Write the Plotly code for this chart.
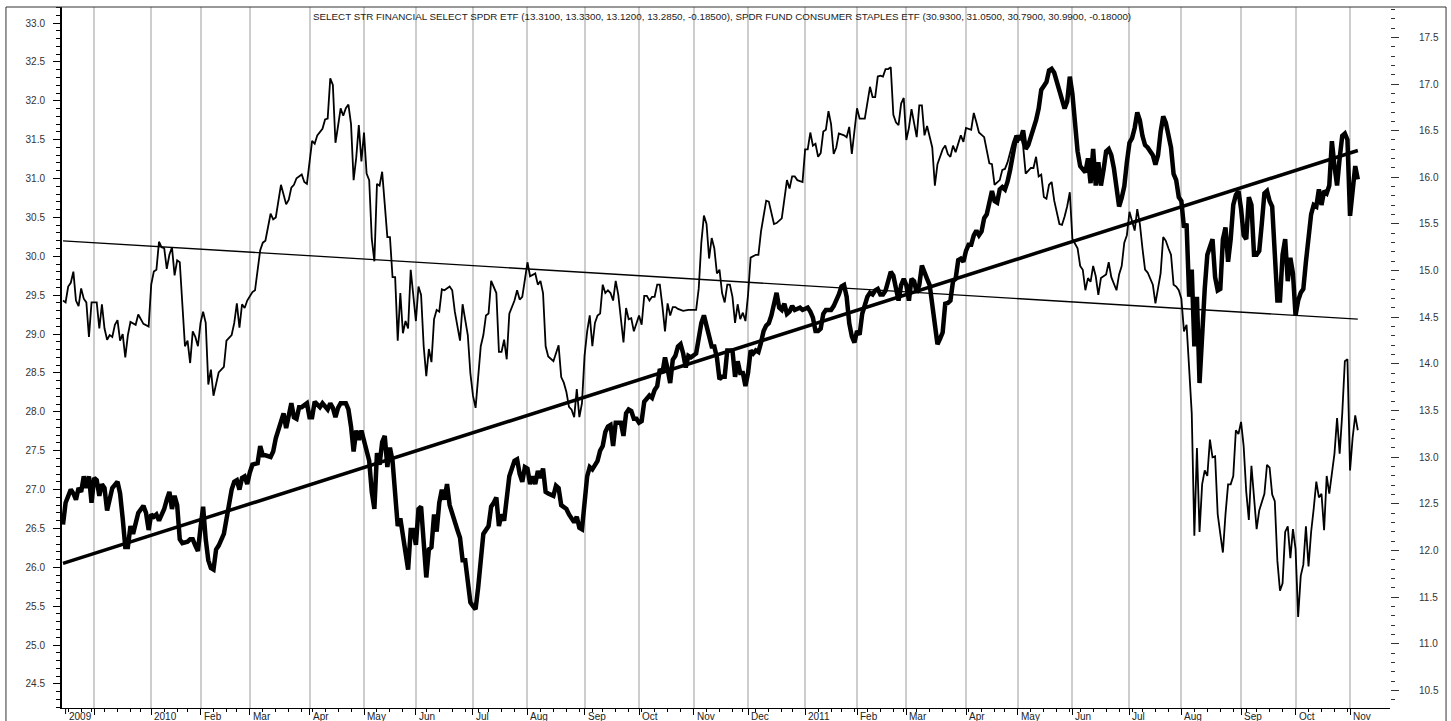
import pandas as pd
import plotly.graph_objects as go

title_text = ("SELECT STR FINANCIAL SELECT SPDR ETF (13.3100, 13.3300, 13.1200, 13.2850, -0.18500), "
              "SPDR FUND CONSUMER STAPLES ETF (30.9300, 31.0500, 30.7900, 30.9900, -0.18000)")

# trading calendar (x axis = trading-day index)
start_date = "2009-11-12"
end_date = "2011-11-04"
holidays = ["2009-11-26", "2009-12-25", "2010-01-01", "2010-01-18", "2010-02-15", "2010-04-02",
            "2010-05-31", "2010-07-05", "2010-09-06", "2010-11-25", "2010-12-24", "2011-01-17",
            "2011-02-21", "2011-04-22", "2011-05-30", "2011-07-04", "2011-09-05"]

month_labels = ["", "2010", "Feb", "Mar", "Apr", "May", "Jun", "Jul", "Aug", "Sep", "Oct", "Nov", "Dec",
                "2011", "Feb", "Mar", "Apr", "May", "Jun", "Jul", "Aug", "Sep", "Oct", "Nov"]
first_label = "2009"
first_label_day = 1

# SELECT STR FINANCIAL SELECT SPDR ETF (thin line, right axis): (trading day, close)
xlf_points = [
    (0, 14.68), (1, 14.66), (2, 14.83), (3, 14.87), (4, 14.99), (5, 14.68), (6, 14.62), (7, 14.81),
    (8, 14.70), (9, 14.66), (10, 14.29), (11, 14.66), (13, 14.66), (14, 14.38), (15, 14.64), (16, 14.38),
    (17, 14.26), (18, 14.31), (19, 14.29), (20, 14.42), (21, 14.47), (22, 14.25), (23, 14.32), (24, 14.07),
    (25, 14.31), (26, 14.45), (28, 14.42), (29, 14.53), (31, 14.43), (33, 14.40), (34, 14.85), (35, 14.99),
    (36, 15.01), (37, 15.31), (38, 15.25), (39, 15.24), (40, 15.02), (41, 15.17), (42, 15.25), (43, 14.95),
    (44, 15.11), (45, 15.09), (46, 14.64), (47, 14.19), (48, 14.25), (49, 14.01), (50, 14.35), (51, 14.29),
    (52, 14.19), (53, 14.44), (54, 14.56), (55, 14.44), (56, 13.78), (57, 13.94), (58, 13.66), (60, 13.91),
    (62, 13.97), (63, 14.25), (65, 14.31), (66, 14.44), (67, 14.65), (68, 14.39), (69, 14.64), (70, 14.60),
    (71, 14.68), (73, 14.77), (74, 14.79), (76, 15.22), (77, 15.30), (78, 15.32), (80, 15.61), (81, 15.55),
    (82, 15.57), (84, 15.92), (86, 15.71), (87, 15.76), (88, 15.89), (89, 15.92), (90, 15.99), (92, 16.03),
    (93, 15.95), (94, 15.93), (95, 16.16), (96, 16.39), (97, 16.36), (98, 16.45), (100, 16.52), (101, 16.62),
    (102, 16.63), (103, 17.06), (104, 16.99), (105, 16.37), (106, 16.55), (107, 16.74), (108, 16.66),
    (109, 16.74), (110, 16.78), (111, 16.57), (112, 15.97), (113, 16.21), (114, 16.56), (115, 16.17),
    (116, 16.48), (117, 16.04), (118, 15.97), (119, 15.34), (120, 15.10), (121, 15.93), (122, 15.91),
    (123, 16.06), (124, 15.71), (125, 15.36), (126, 15.36), (127, 14.93), (128, 14.93), (129, 14.25),
    (130, 14.76), (131, 14.33), (132, 14.46), (133, 14.38), (134, 15.01), (135, 14.76), (136, 14.46),
    (137, 14.83), (138, 14.74), (139, 14.19), (140, 13.87), (141, 14.16), (142, 14.02), (143, 14.48),
    (144, 14.58), (145, 14.56), (146, 14.80), (147, 14.79), (149, 14.83), (150, 14.79), (151, 14.56),
    (153, 14.25), (154, 14.64), (156, 14.31), (157, 13.90), (158, 13.66), (159, 13.53), (161, 14.19),
    (162, 14.31), (163, 14.52), (164, 14.54), (165, 14.89), (167, 14.76), (168, 14.13), (169, 14.13),
    (170, 14.26), (171, 14.05), (172, 14.54), (174, 14.68), (175, 14.79), (176, 14.69), (177, 14.72),
    (178, 14.89), (179, 15.09), (180, 14.94), (182, 14.97), (183, 14.85), (184, 14.89), (185, 14.76),
    (186, 14.19), (187, 14.08), (189, 14.03), (191, 14.20), (192, 13.86), (193, 13.80), (194, 13.70),
    (195, 13.54), (196, 13.51), (197, 13.43), (198, 13.73), (199, 13.43), (200, 13.58), (201, 14.09),
    (202, 14.35), (203, 14.52), (204, 14.19), (205, 14.44), (206, 14.52), (207, 14.54), (208, 14.85),
    (209, 14.76), (210, 14.79), (211, 14.76), (212, 14.68), (213, 14.89), (214, 14.74), (216, 14.23),
    (217, 14.60), (218, 14.48), (219, 14.49), (220, 14.35), (222, 14.52), (223, 14.42), (224, 14.73),
    (225, 14.73), (226, 14.68), (227, 14.72), (228, 14.72), (229, 14.85), (230, 14.85), (231, 14.62),
    (232, 14.35), (233, 14.65), (234, 14.52), (235, 14.61), (236, 14.61), (237, 14.59), (239, 14.57),
    (241, 14.58), (242, 14.58), (244, 14.58), (245, 14.81), (246, 15.30), (247, 15.59), (248, 15.50),
    (249, 15.13), (250, 15.35), (251, 15.24), (252, 14.97), (253, 15.01), (254, 14.76), (255, 14.66),
    (256, 14.85), (257, 14.85), (258, 14.72), (259, 14.44), (260, 14.64), (261, 14.48), (262, 14.55),
    (263, 14.46), (264, 14.74), (265, 15.14), (267, 15.17), (268, 15.17), (269, 15.42), (271, 15.75),
    (272, 15.74), (274, 15.50), (275, 15.51), (277, 15.56), (279, 15.97), (280, 15.88), (281, 16.01),
    (282, 16.01), (283, 15.97), (285, 15.95), (286, 16.30), (287, 16.30), (288, 16.48), (289, 16.34),
    (290, 16.36), (291, 16.22), (292, 16.26), (293, 16.49), (294, 16.51), (295, 16.71), (296, 16.57),
    (297, 16.25), (298, 16.32), (299, 16.47), (301, 16.45), (302, 16.43), (303, 16.54), (304, 16.25),
    (305, 16.49), (306, 16.74), (307, 16.63), (309, 16.63), (311, 16.97), (312, 16.86), (313, 16.86),
    (314, 17.08), (315, 17.09), (316, 17.08), (317, 17.16), (318, 17.16), (319, 17.18), (320, 16.67),
    (321, 16.59), (322, 16.56), (323, 16.79), (324, 16.85), (325, 16.40), (326, 16.53), (327, 16.73),
    (329, 16.43), (330, 16.77), (331, 16.77), (332, 16.45), (333, 16.55), (335, 16.32), (336, 15.91),
    (337, 16.14), (339, 16.30), (340, 16.34), (341, 16.25), (342, 16.22), (343, 16.34), (344, 16.27),
    (346, 16.45), (347, 16.38), (348, 16.53), (350, 16.51), (351, 16.69), (352, 16.59), (353, 16.48),
    (355, 16.43), (356, 16.30), (357, 16.15), (358, 16.14), (359, 15.92), (361, 15.97), (362, 16.08),
    (363, 16.09), (364, 16.16), (366, 16.37), (367, 16.45), (368, 16.37), (369, 16.45), (370, 16.34),
    (371, 16.04), (373, 16.10), (374, 16.10), (375, 16.22), (376, 16.01), (377, 16.03), (378, 15.79),
    (379, 15.77), (380, 15.92), (381, 15.95), (382, 15.75), (384, 15.50), (385, 15.49), (386, 15.58),
    (387, 15.69), (388, 15.84), (389, 15.34), (391, 15.24), (392, 15.05), (393, 15.01), (394, 14.79),
    (395, 14.92), (396, 14.88), (397, 15.05), (398, 14.94), (399, 14.74), (400, 14.92), (402, 14.96),
    (403, 15.09), (404, 14.93), (406, 14.79), (407, 14.96), (408, 15.05), (409, 15.30), (410, 15.38),
    (411, 15.63), (412, 15.52), (413, 15.43), (414, 15.66), (415, 15.50), (416, 15.24), (417, 15.01),
    (418, 14.98), (419, 14.91), (420, 14.85), (421, 14.65), (422, 14.79), (423, 14.97), (424, 15.36),
    (425, 15.32), (426, 15.24), (427, 15.17), (428, 14.85), (429, 14.83), (430, 14.79), (431, 14.70),
    (432, 14.35), (433, 14.42), (434, 13.95), (435, 13.47), (436, 12.16), (437, 13.10), (438, 12.20),
    (439, 12.71), (440, 12.86), (441, 12.80), (442, 13.19), (443, 13.00), (444, 13.01), (445, 12.39),
    (446, 12.18), (447, 11.98), (448, 12.39), (449, 12.71), (450, 12.71), (451, 12.80), (452, 13.29),
    (453, 13.25), (454, 13.38), (455, 13.12), (456, 12.63), (457, 12.33), (458, 12.91), (459, 12.55),
    (460, 12.23), (461, 12.43), (463, 12.61), (464, 12.92), (465, 12.89), (466, 12.60), (467, 12.53),
    (468, 11.89), (469, 11.57), (470, 11.65), (471, 12.20), (472, 12.26), (473, 11.92), (474, 12.23),
    (475, 12.02), (476, 11.29), (477, 11.73), (478, 11.85), (479, 12.26), (480, 11.83), (481, 12.20),
    (482, 12.45), (483, 12.74), (484, 12.57), (485, 12.61), (486, 12.22), (487, 12.80), (488, 12.61),
    (489, 12.80), (490, 13.04), (491, 13.42), (492, 13.04), (493, 13.47), (494, 14.03), (495, 14.05),
    (496, 12.86), (497, 13.21), (498, 13.45), (499, 13.29),
]

# SPDR FUND CONSUMER STAPLES ETF (thick line, left axis): (trading day, close)
xlp_points = [
    (0, 26.55), (1, 26.83), (3, 27.00), (4, 26.95), (5, 26.87), (6, 27.02), (7, 26.97), (8, 27.17),
    (9, 27.02), (10, 27.17), (11, 26.83), (12, 27.15), (13, 27.12), (14, 26.92), (15, 27.07), (16, 27.02),
    (17, 26.73), (18, 26.87), (19, 27.02), (21, 27.10), (22, 26.95), (23, 26.63), (24, 26.26), (25, 26.26),
    (26, 26.53), (27, 26.43), (28, 26.60), (29, 26.70), (31, 26.79), (32, 26.70), (33, 26.48), (34, 26.68),
    (35, 26.65), (36, 26.68), (37, 26.60), (39, 26.75), (40, 26.87), (41, 26.97), (42, 26.75), (43, 26.92),
    (44, 26.80), (45, 26.36), (46, 26.31), (48, 26.33), (49, 26.36), (50, 26.36), (51, 26.28), (52, 26.21),
    (53, 26.51), (54, 26.78), (55, 26.36), (56, 26.09), (57, 25.99), (58, 25.97), (59, 26.23), (60, 26.28),
    (62, 26.43), (63, 26.63), (64, 26.83), (65, 27.00), (66, 27.10), (67, 27.12), (68, 27.00), (69, 27.15),
    (70, 27.17), (71, 27.07), (72, 27.22), (73, 27.32), (75, 27.34), (76, 27.56), (77, 27.44), (78, 27.44),
    (80, 27.42), (81, 27.49), (82, 27.66), (84, 27.91), (85, 27.98), (86, 27.79), (87, 27.98), (88, 28.11),
    (89, 27.93), (90, 27.91), (91, 28.06), (92, 28.06), (94, 28.11), (95, 27.93), (96, 27.93), (97, 28.13),
    (99, 28.06), (100, 28.11), (102, 28.03), (103, 28.11), (104, 28.05), (105, 27.93), (106, 28.05),
    (107, 28.11), (109, 28.11), (110, 28.03), (111, 27.81), (112, 27.49), (113, 27.76), (114, 27.64),
    (115, 27.76), (116, 27.61), (117, 27.51), (118, 27.37), (119, 26.97), (120, 26.75), (121, 27.47),
    (122, 27.32), (123, 27.61), (124, 27.69), (125, 27.29), (126, 27.54), (127, 27.37), (128, 26.97),
    (129, 26.53), (130, 26.63), (132, 26.14), (133, 25.97), (134, 26.48), (135, 26.48), (136, 26.29),
    (137, 26.75), (138, 26.78), (139, 26.26), (140, 25.87), (141, 26.23), (142, 26.26), (143, 26.68),
    (144, 26.46), (145, 26.83), (146, 27.00), (147, 26.87), (148, 27.07), (149, 26.80), (150, 26.68),
    (152, 26.48), (153, 26.38), (154, 26.09), (155, 26.09), (156, 25.79), (157, 25.55), (158, 25.50),
    (159, 25.46), (160, 25.74), (161, 26.14), (162, 26.43), (164, 26.53), (165, 26.78), (166, 26.83),
    (167, 26.90), (168, 26.53), (169, 26.68), (170, 26.60), (171, 26.87), (172, 27.17), (173, 27.27),
    (174, 27.37), (175, 27.39), (176, 27.20), (177, 27.10), (178, 27.29), (179, 27.27), (180, 27.07),
    (181, 27.17), (182, 27.07), (183, 27.24), (184, 27.15), (185, 27.27), (186, 26.97), (187, 26.95),
    (189, 26.92), (190, 27.05), (191, 27.02), (192, 26.80), (193, 26.78), (194, 26.75), (195, 26.68),
    (197, 26.58), (198, 26.65), (199, 26.51), (200, 26.49), (201, 26.87), (202, 27.17), (203, 27.29),
    (204, 27.26), (206, 27.37), (207, 27.50), (208, 27.56), (209, 27.74), (210, 27.81), (211, 27.83),
    (212, 27.56), (213, 27.86), (214, 27.86), (215, 27.86), (216, 27.69), (217, 27.98), (218, 28.03),
    (219, 28.01), (220, 27.91), (221, 27.91), (222, 27.86), (223, 27.88), (224, 28.13), (226, 28.21),
    (227, 28.18), (228, 28.28), (229, 28.33), (230, 28.55), (231, 28.50), (232, 28.70), (233, 28.55),
    (234, 28.37), (235, 28.67), (236, 28.72), (237, 28.84), (238, 28.87), (239, 28.75), (240, 28.57),
    (241, 28.72), (242, 28.70), (244, 28.75), (245, 28.97), (246, 29.14), (247, 29.24), (248, 29.11),
    (249, 28.97), (250, 28.84), (251, 28.84), (252, 28.70), (253, 28.42), (254, 28.45), (255, 28.45),
    (256, 28.79), (257, 28.79), (258, 28.79), (259, 28.45), (260, 28.65), (261, 28.50), (262, 28.50),
    (263, 28.33), (264, 28.50), (265, 28.79), (266, 28.75), (267, 28.79), (268, 28.77), (269, 28.89),
    (270, 29.04), (271, 29.11), (272, 29.14), (273, 29.24), (274, 29.39), (275, 29.53), (276, 29.34),
    (277, 29.31), (278, 29.39), (279, 29.26), (280, 29.29), (281, 29.36), (282, 29.31), (284, 29.34),
    (285, 29.31), (287, 29.34), (288, 29.29), (289, 29.21), (290, 29.04), (291, 29.04), (292, 29.07),
    (293, 29.26), (294, 29.31), (295, 29.31), (296, 29.31), (297, 29.36), (298, 29.43), (299, 29.51),
    (300, 29.61), (301, 29.63), (302, 29.48), (303, 29.14), (304, 28.97), (305, 28.89), (306, 29.04),
    (307, 28.99), (308, 29.26), (309, 29.39), (310, 29.48), (311, 29.53), (312, 29.51), (313, 29.56),
    (314, 29.58), (315, 29.51), (316, 29.51), (317, 29.56), (318, 29.69), (319, 29.80), (320, 29.75),
    (321, 29.56), (322, 29.43), (323, 29.63), (324, 29.71), (325, 29.63), (326, 29.43), (327, 29.71),
    (328, 29.68), (329, 29.53), (330, 29.63), (331, 29.88), (332, 29.78), (333, 29.71), (334, 29.63),
    (335, 29.34), (336, 29.04), (337, 28.87), (338, 28.94), (339, 29.02), (340, 29.39), (341, 29.40),
    (342, 29.43), (343, 29.68), (344, 29.71), (345, 29.95), (346, 29.97), (347, 29.93), (348, 30.07),
    (349, 30.15), (350, 30.15), (351, 30.27), (352, 30.33), (353, 30.27), (354, 30.32), (355, 30.49),
    (356, 30.54), (357, 30.71), (358, 30.84), (359, 30.71), (360, 30.69), (361, 30.86), (362, 30.89),
    (363, 30.86), (364, 30.96), (365, 31.11), (366, 31.30), (367, 31.48), (368, 31.55), (369, 31.50),
    (370, 31.62), (371, 31.38), (372, 31.43), (373, 31.53), (374, 31.65), (375, 31.75), (376, 31.90),
    (377, 32.14), (378, 32.19), (379, 32.24), (380, 32.39), (381, 32.41), (382, 32.36), (383, 32.24),
    (384, 32.14), (385, 31.99), (386, 31.90), (387, 31.99), (388, 32.31), (389, 32.09), (390, 31.70),
    (391, 31.35), (392, 31.16), (393, 31.11), (394, 31.08), (395, 31.26), (396, 30.94), (397, 31.38),
    (398, 30.91), (399, 31.21), (400, 30.91), (401, 31.11), (402, 31.35), (403, 31.38), (404, 31.30),
    (405, 31.13), (406, 30.86), (407, 30.64), (408, 30.75), (409, 30.90), (410, 31.21), (411, 31.46),
    (412, 31.52), (413, 31.65), (414, 31.85), (415, 31.75), (416, 31.55), (417, 31.43), (418, 31.40),
    (419, 31.35), (420, 31.30), (421, 31.18), (422, 31.30), (423, 31.60), (424, 31.80), (425, 31.72),
    (426, 31.55), (427, 31.40), (428, 31.06), (429, 30.98), (430, 30.76), (431, 30.71), (432, 30.37),
    (433, 30.42), (434, 29.48), (435, 29.83), (436, 28.84), (437, 29.48), (438, 28.37), (439, 29.09),
    (440, 29.58), (441, 30.02), (442, 30.12), (443, 30.22), (444, 29.73), (445, 29.56), (446, 29.58),
    (447, 30.22), (448, 30.37), (449, 29.93), (450, 30.22), (451, 30.66), (452, 30.79), (453, 30.84),
    (454, 30.61), (455, 30.27), (456, 30.22), (457, 30.76), (458, 30.66), (459, 30.02), (460, 30.02),
    (461, 30.07), (462, 30.42), (463, 30.81), (464, 30.84), (465, 30.71), (466, 30.64), (467, 30.02),
    (468, 29.43), (469, 29.43), (470, 30.02), (471, 30.22), (472, 29.68), (473, 29.98), (474, 29.78),
    (475, 29.24), (476, 29.43), (477, 29.53), (478, 29.58), (479, 29.93), (480, 30.22), (481, 30.54),
    (482, 30.66), (483, 30.64), (484, 30.86), (485, 30.66), (486, 30.84), (487, 30.81), (488, 30.91),
    (489, 31.48), (490, 31.16), (491, 30.91), (492, 31.26), (493, 31.55), (494, 31.58), (495, 31.50),
    (496, 30.52), (497, 30.81), (498, 31.16), (499, 30.99),
]

# trend lines (end points)
trend_day = [0, 499]
xlp_trend = [26.05, 31.36]
xlf_trend = [15.32, 14.48]

# ---------------------------------------------------------------------------
cal = pd.bdate_range(start_date, end_date, freq="C", holidays=holidays)
per = cal.to_period("M")
month_idx = [i for i in range(1, len(cal)) if per[i] != per[i - 1]]
week_idx = [i for i in range(1, len(cal)) if cal[i].weekday() < cal[i - 1].weekday()]

xlf_day = [p[0] for p in xlf_points]
xlf_close = [p[1] for p in xlf_points]
xlp_day = [p[0] for p in xlp_points]
xlp_close = [p[1] for p in xlp_points]

FONT = "Liberation Sans, Arial, Helvetica, sans-serif"

fig = go.Figure()
fig.add_trace(go.Scatter(x=xlf_day, y=xlf_close, yaxis="y2", mode="lines",
                         line=dict(color="black", width=1.8), hoverinfo="skip"))
fig.add_trace(go.Scatter(x=trend_day, y=xlf_trend, yaxis="y2", mode="lines",
                         line=dict(color="black", width=1.3), hoverinfo="skip"))
fig.add_trace(go.Scatter(x=xlp_day, y=xlp_close, mode="lines",
                         line=dict(color="black", width=4.5), hoverinfo="skip"))
fig.add_trace(go.Scatter(x=trend_day, y=xlp_trend, mode="lines",
                         line=dict(color="black", width=3.5), hoverinfo="skip"))

annotations = []
for i, lab in zip(month_idx, month_labels):
    if lab:
        annotations.append(dict(x=i, xref="x", y=0, yref="paper", text=lab, showarrow=False,
                                xanchor="left", yanchor="top", xshift=1, yshift=-1,
                                font=dict(family=FONT, size=10, color="#222")))
annotations.append(dict(x=first_label_day, xref="x", y=0, yref="paper", text=first_label, showarrow=False,
                        xanchor="left", yanchor="top", xshift=1, yshift=-1,
                        font=dict(family=FONT, size=10, color="#222")))
annotations.append(dict(x=0.497, xref="paper", y=1, yref="paper", text=title_text, showarrow=False,
                        xanchor="center", yanchor="top", yshift=-2,
                        font=dict(family=FONT, size=9.8, color="#222")))

shapes = [
    dict(type="rect", xref="paper", yref="paper", x0=-0.0422, x1=1.0422, y0=-0.05, y1=1.0,
         line=dict(color="#333", width=1), fillcolor="rgba(0,0,0,0)", layer="above"),
    dict(type="line", xref="x", yref="paper", x0=first_label_day, x1=first_label_day, y0=0, y1=-6 / 701,
         line=dict(color="black", width=1)),
]

fig.update_layout(
    width=1451, height=721,
    margin=dict(l=62, r=61, t=7, b=13),
    paper_bgcolor="white", plot_bgcolor="white",
    showlegend=False, hovermode=False,
    font=dict(family=FONT, size=10, color="#333"),
    annotations=annotations, shapes=shapes,
    xaxis=dict(range=[-0.385, 511.4], tickmode="array", tickvals=month_idx, showticklabels=False,
               ticks="outside", ticklen=6, tickcolor="black", tickwidth=1,
               showgrid=True, gridcolor="#cdcdcd", gridwidth=1.5,
               showline=True, linecolor="black", linewidth=1, zeroline=False,
               minor=dict(tickmode="array", tickvals=week_idx, ticks="outside", ticklen=3,
                          tickcolor="black", showgrid=False)),
    yaxis=dict(range=[24.191, 33.206], tickmode="linear", tick0=24.5, dtick=0.5, tickformat=".1f",
               ticks="outside", ticklen=7, tickcolor="black", tickwidth=1,
               showline=True, linecolor="black", linewidth=2, showgrid=False, zeroline=False,
               minor=dict(dtick=0.1, ticks="outside", ticklen=4, tickcolor="black"),
               ticklabelstandoff=6, tickfont=dict(family=FONT, size=10, color="#333")),
    yaxis2=dict(overlaying="y", side="right", range=[10.314, 17.825], tickmode="linear", tick0=10.5,
                dtick=0.5, tickformat=".1f", ticks="outside", ticklen=8, tickcolor="#333", tickwidth=1,
                showline=False, showgrid=False, zeroline=False,
                minor=dict(dtick=0.1, ticks="outside", ticklen=4, tickcolor="#333"),
                ticklabelstandoff=18, tickfont=dict(family=FONT, size=10, color="#333")),
)

fig.write_html("out.html", config={"displayModeBar": False},
               post_script="document.body.style.margin='0';document.body.style.overflow='hidden';")
